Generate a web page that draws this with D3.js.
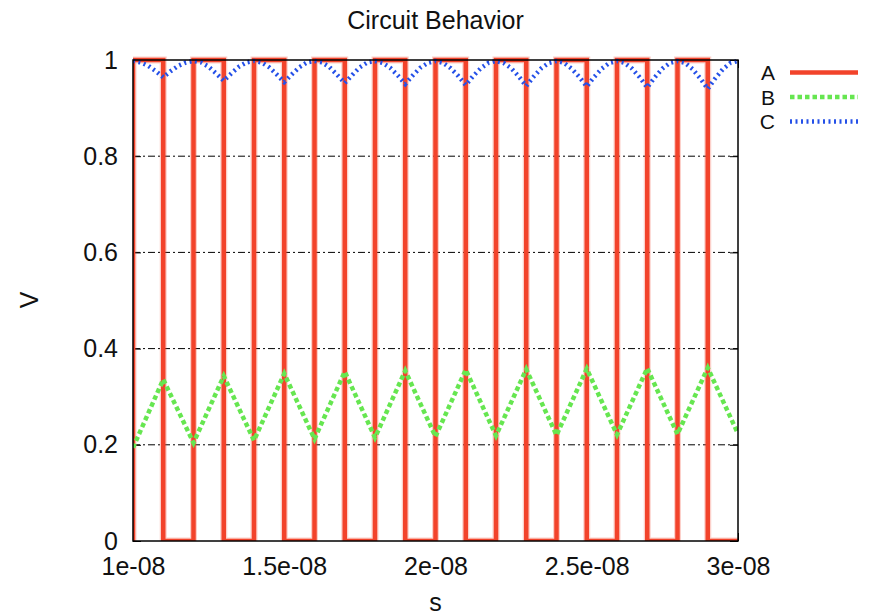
<!DOCTYPE html>
<html>
<head>
<meta charset="utf-8">
<script src="https://cdn.jsdelivr.net/npm/d3@7"></script>
<style>
    body { margin: 0; background: #fff; }
    text { font-family: "Liberation Sans", Arial, Helvetica, sans-serif; fill: #111; }
</style>
</head>
<body>
<div id="chart-area"></div>
<script>
// circuit behaviour plot, gnuplot look

// time in ns
let aTimes = [10, 10, 11, 12, 13, 14, 15, 16, 17, 18, 19, 20, 21, 22, 23, 24, 25, 26, 27, 28, 29, 30];
let aLevels = [0, 1, 0, 1, 0, 1, 0, 1, 0, 1, 0, 1, 0, 1, 0, 1, 0, 1, 0, 1, 0, 0];

let bTimes = [10, 11, 12, 13, 14, 15, 16, 17, 18, 19, 20, 21, 22, 23, 24, 25, 26, 27, 28, 29, 30];
let bValues = [0.194, 0.336, 0.204, 0.343, 0.209, 0.348, 0.212, 0.352, 0.215, 0.354, 0.217,
    0.356, 0.219, 0.357, 0.220, 0.358, 0.221, 0.359, 0.222, 0.360, 0.223];

// sampled every 0.25 ns
let cTimes = d3.range(10, 30.001, 0.25);
let cValues = [
    0.998, 0.995, 0.988, 0.977, 0.964, 0.977, 0.988, 0.995,
    0.998, 0.995, 0.986, 0.972, 0.957, 0.972, 0.986, 0.995,
    0.998, 0.995, 0.985, 0.970, 0.954, 0.970, 0.985, 0.995,
    0.998, 0.995, 0.985, 0.969, 0.952, 0.969, 0.985, 0.995,
    0.998, 0.994, 0.984, 0.968, 0.950, 0.968, 0.984, 0.994,
    0.998, 0.994, 0.983, 0.967, 0.948, 0.967, 0.983, 0.994,
    0.998, 0.994, 0.983, 0.966, 0.946, 0.966, 0.983, 0.994,
    0.998, 0.994, 0.982, 0.965, 0.945, 0.965, 0.982, 0.994,
    0.998, 0.994, 0.982, 0.964, 0.943, 0.964, 0.982, 0.994,
    0.998, 0.994, 0.981, 0.962, 0.940, 0.962, 0.981, 0.994,
    0.998
];

let xTicks = [10, 15, 20, 25, 30];
let xTickLabels = ["1e-08", "1.5e-08", "2e-08", "2.5e-08", "3e-08"];
let yTicks = [0, 0.2, 0.4, 0.6, 0.8, 1];
let yTickLabels = ["0", "0.2", "0.4", "0.6", "0.8", "1"];
let gridTicks = [0.2, 0.4, 0.6, 0.8];

let seriesNames = ["A", "B", "C"];
let seriesColors = ["#f2432b", "#66e650", "#2450e8"];
let seriesDash = [null, "4.5,3", "2,3.5"];

let margin = {top: 60, right: 133, bottom: 74, left: 133};

let width = 871 - margin.left - margin.right,
    height = 615 - margin.top - margin.bottom;

let root = d3.select("#chart-area").append("svg")
    .attr("width", 871)
    .attr("height", 615);

root.append("rect")
    .attr("width", 871)
    .attr("height", 615)
    .attr("fill", "#fff");

let svg = root.append("g")
    .attr("transform", "translate(" + margin.left + "," + margin.top + ")");

// Scales
let x = d3.scaleLinear()
    .domain([10, 30])
    .range([0, width]);

let y = d3.scaleLinear()
    .domain([0, 1])
    .range([height, 0]);

svg.append("clipPath")
    .attr("id", "plot-clip")
    .append("rect")
    .attr("x", 0)
    .attr("y", -4)
    .attr("width", width)
    .attr("height", height + 4);

// grid, dash-dot like gnuplot
svg.selectAll(".grid")
    .data(gridTicks)
    .enter().append("line")
    .attr("class", "grid")
    .attr("x1", 0)
    .attr("x2", width)
    .attr("y1", d => y(d))
    .attr("y2", d => y(d))
    .attr("stroke", "#000")
    .attr("stroke-width", 1)
    .attr("stroke-dasharray", "7,3,2,3");

// axes with inward ticks
let xAxis = d3.axisBottom(x)
    .tickValues(xTicks)
    .tickFormat((d, i) => xTickLabels[i])
    .tickSize(-8)
    .tickPadding(16);

let yAxis = d3.axisLeft(y)
    .tickValues(yTicks)
    .tickFormat((d, i) => yTickLabels[i])
    .tickSize(-8)
    .tickPadding(15);

svg.append("g")
    .attr("class", "x-axis")
    .attr("transform", "translate(0," + height + ")")
    .call(xAxis);

svg.append("g")
    .attr("class", "y-axis")
    .call(yAxis);

svg.append("g")
    .attr("class", "y-axis-right")
    .attr("transform", "translate(" + width + ",0)")
    .call(d3.axisRight(y).tickValues(yTicks).tickSize(-8).tickFormat(""));

svg.append("g")
    .attr("class", "x-axis-top")
    .call(d3.axisTop(x).tickValues(xTicks).tickSize(-8).tickFormat(""));

svg.selectAll(".domain").remove();
svg.selectAll(".tick line").attr("stroke", "#000").attr("stroke-width", 1);
svg.selectAll(".x-axis text, .y-axis text")
    .style("font-size", "25px")
    .attr("fill", "#111");

// curves
let aData = aTimes.map((t, i) => ({t: t, v: aLevels[i]}));
let bData = bTimes.map((t, i) => ({t: t, v: bValues[i]}));
let cData = cTimes.map((t, i) => ({t: t, v: cValues[i]}));

let stepLine = d3.line()
    .x(d => x(d.t))
    .y(d => y(d.v))
    .curve(d3.curveStepAfter);

let line = d3.line()
    .x(d => x(d.t))
    .y(d => y(d.v));

let plot = svg.append("g").attr("clip-path", "url(#plot-clip)");

// soft halo under the red trace
plot.append("path")
    .datum(aData)
    .attr("d", stepLine)
    .attr("fill", "none")
    .attr("stroke", seriesColors[0])
    .attr("stroke-opacity", 0.25)
    .attr("stroke-width", 7);

plot.append("path")
    .datum(aData)
    .attr("d", stepLine)
    .attr("fill", "none")
    .attr("stroke", seriesColors[0])
    .attr("stroke-width", 4.5);

plot.append("path")
    .datum(bData)
    .attr("d", line)
    .attr("fill", "none")
    .attr("stroke", seriesColors[1])
    .attr("stroke-width", 4.5)
    .attr("stroke-dasharray", seriesDash[1]);

plot.append("path")
    .datum(cData)
    .attr("d", line)
    .attr("fill", "none")
    .attr("stroke", seriesColors[2])
    .attr("stroke-width", 4.5)
    .attr("stroke-dasharray", seriesDash[2]);

// border
svg.append("rect")
    .attr("width", width)
    .attr("height", height)
    .attr("fill", "none")
    .attr("stroke", "#000")
    .attr("stroke-width", 1.5);

// titles
root.append("text")
    .attr("x", 435.5)
    .attr("y", 29)
    .attr("text-anchor", "middle")
    .style("font-size", "25px")
    .text("Circuit Behavior");

root.append("text")
    .attr("x", 435.5)
    .attr("y", 611)
    .attr("text-anchor", "middle")
    .style("font-size", "25px")
    .text("s");

root.append("text")
    .attr("transform", "translate(38,300) rotate(-90)")
    .attr("text-anchor", "middle")
    .style("font-size", "25px")
    .text("V");

// legend
let legend = root.append("g").attr("class", "legend");

seriesNames.forEach(function (name, i) {
    let ly = 72.5 + i * 24.5;
    legend.append("text")
        .attr("x", 775)
        .attr("y", ly + 7.5)
        .attr("text-anchor", "end")
        .style("font-size", "21px")
        .text(name);
    legend.append("line")
        .attr("x1", 790)
        .attr("x2", 858)
        .attr("y1", ly)
        .attr("y2", ly)
        .attr("stroke", seriesColors[i])
        .attr("stroke-width", 4.5)
        .attr("stroke-dasharray", seriesDash[i]);
});
</script>
</body>
</html>
